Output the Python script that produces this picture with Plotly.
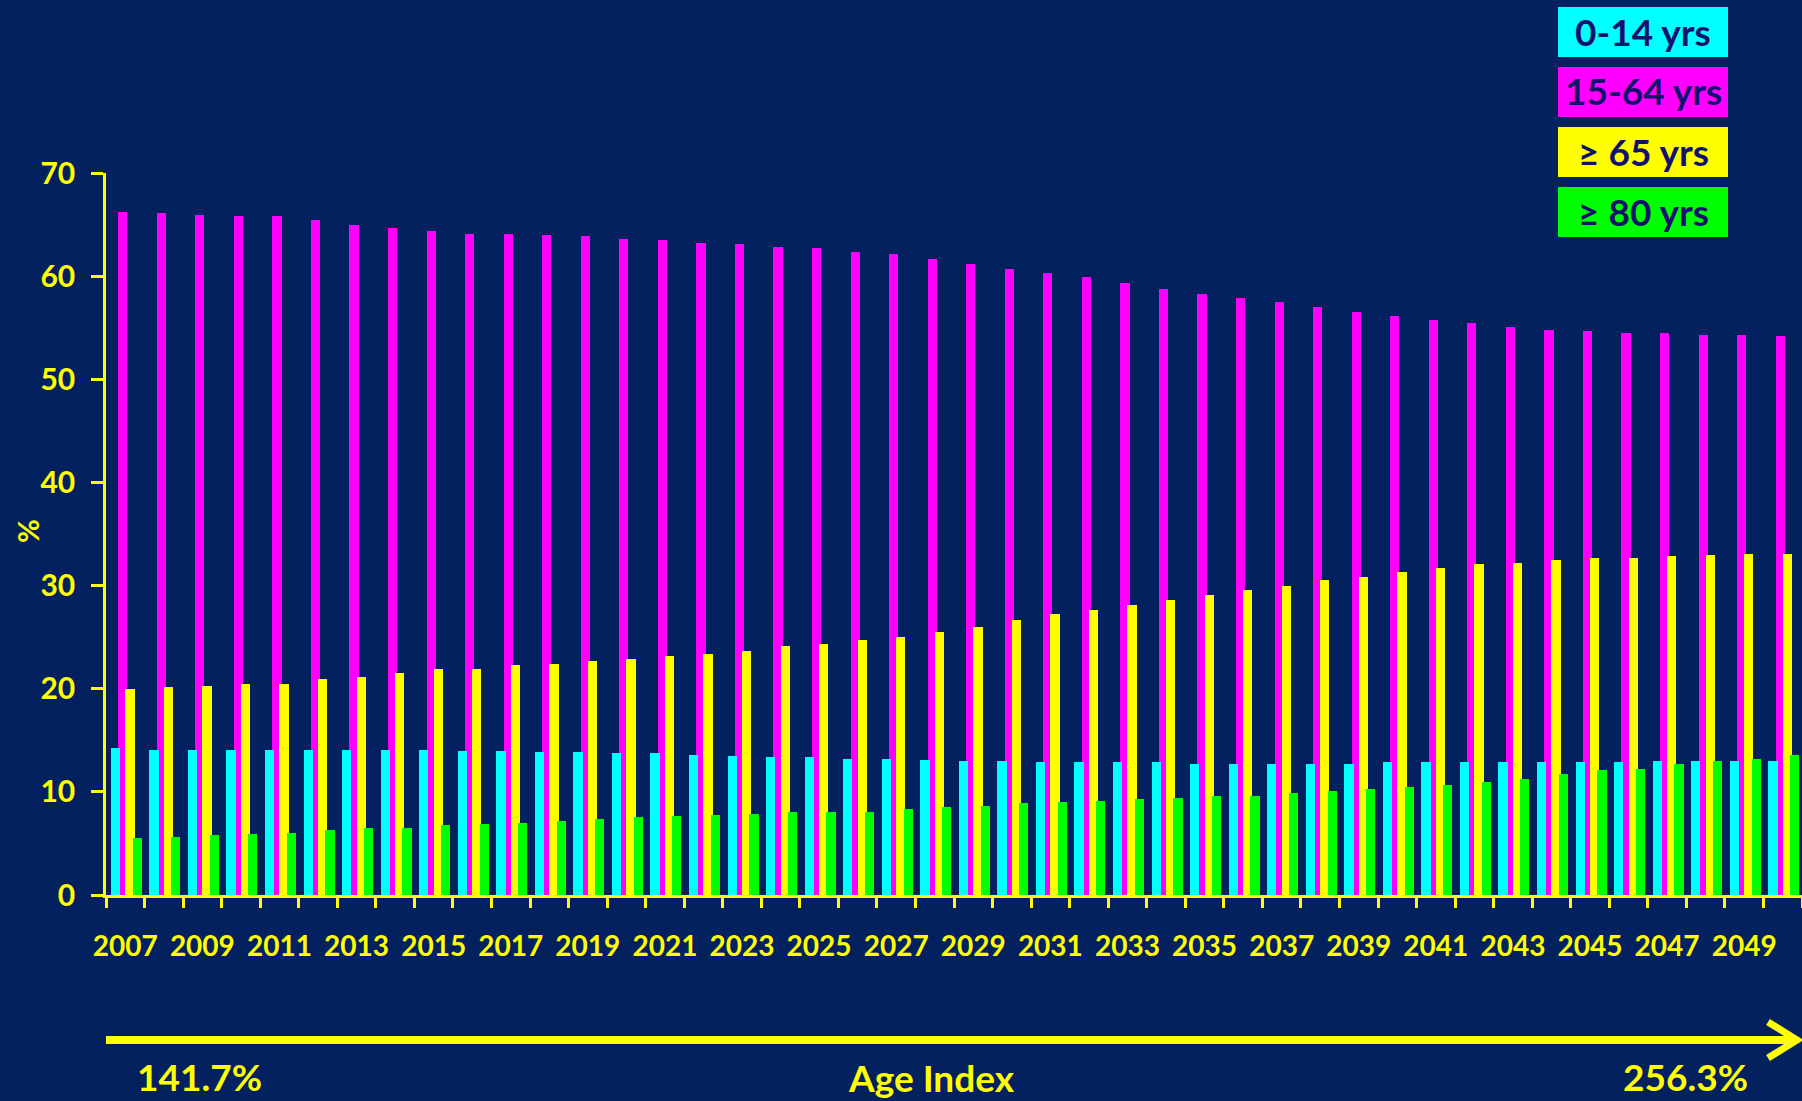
import plotly.graph_objects as go

# ---- data: population share by age group (%), 2007-2050 ----
years = list(range(2007, 2051))

age_0_14 = [14.3, 14.1, 14.1, 14.1, 14.1, 14.1, 14.1, 14.1, 14.1, 14.0, 14.0,
            13.9, 13.9, 13.8, 13.8, 13.6, 13.5, 13.4, 13.4, 13.2, 13.2, 13.1,
            13.0, 13.0, 12.9, 12.9, 12.9, 12.9, 12.7, 12.7, 12.7, 12.7, 12.7, 12.9,
            12.9, 12.9, 12.9, 12.9, 12.9, 12.9, 13.0, 13.0, 13.0, 13.0]

age_15_64 = [66.2, 66.1, 65.9, 65.8, 65.8, 65.4, 65.0, 64.7, 64.4, 64.1, 64.1,
             64.0, 63.9, 63.6, 63.5, 63.2, 63.1, 62.8, 62.7, 62.3, 62.1, 61.7,
             61.2, 60.7, 60.3, 59.9, 59.3, 58.8, 58.3, 57.9, 57.5, 57.0, 56.5, 56.1,
             55.7, 55.5, 55.1, 54.8, 54.7, 54.5, 54.5, 54.3, 54.3, 54.2]

age_65_plus = [20.0, 20.2, 20.3, 20.5, 20.5, 20.9, 21.1, 21.5, 21.9, 21.9, 22.3,
               22.4, 22.7, 22.9, 23.2, 23.4, 23.7, 24.1, 24.3, 24.7, 25.0, 25.5,
               26.0, 26.7, 27.2, 27.6, 28.1, 28.6, 29.1, 29.6, 30.0, 30.5, 30.8, 31.3,
               31.7, 32.1, 32.2, 32.5, 32.7, 32.7, 32.9, 33.0, 33.1, 33.1]

age_80_plus = [5.5, 5.6, 5.8, 5.9, 6.0, 6.3, 6.5, 6.5, 6.8, 6.9, 7.0,
               7.2, 7.4, 7.6, 7.7, 7.8, 7.9, 8.0, 8.0, 8.0, 8.3, 8.5,
               8.6, 8.9, 9.0, 9.1, 9.3, 9.4, 9.6, 9.6, 9.9, 10.1, 10.3, 10.5,
               10.7, 11.0, 11.2, 11.7, 12.1, 12.2, 12.7, 13.0, 13.2, 13.6]

year_ticks = list(range(2007, 2050, 2))
y_ticks = [0, 10, 20, 30, 40, 50, 60, 70]
legend_labels = ["0-14 yrs", "15-64 yrs", "≥ 65 yrs", "≥ 80 yrs"]
age_index_start = "141.7%"
age_index_end = "256.3%"
age_index_title = "Age Index"

# ---- styling ----
BG = "#03215F"
YELLOW = "#FFFF00"
CYAN = "#00FFFF"
MAGENTA = "#FF00FF"
GREEN = "#00FF00"
LEGEND_TEXT = "#12126E"
FONT = "Lato"

W, H = 1802, 1101
ML, MR, MT, MB = 106, 0, 173, 206
PW = W - ML - MR
PH = H - MT - MB


def px_x(px):
    return (px - ML) / PW


def px_y(py):
    return (H - MB - py) / PH


BAR_W = 0.24
series = [
    # (name, values, colour, offset) -- drawn back to front
    ("15-64 yrs", age_15_64, MAGENTA, -0.185),
    ("0-14 yrs", age_0_14, CYAN, -0.375),
    ("≥ 65 yrs", age_65_plus, YELLOW, 0.0),
    ("≥ 80 yrs", age_80_plus, GREEN, 0.19),
]

fig = go.Figure()
for name, vals, col, off in series:
    fig.add_trace(go.Bar(
        x=years, y=vals, name=name,
        offset=off, width=BAR_W,
        marker=dict(color=col, line=dict(width=0)),
        showlegend=False,
    ))

fig.update_layout(
    width=W, height=H,
    margin=dict(l=ML, r=MR, t=MT, b=MB, pad=0),
    paper_bgcolor=BG, plot_bgcolor=BG,
    barmode="overlay",
    bargap=0,
    showlegend=False,
    xaxis=dict(
        range=[2006.5, 2050.5],
        showline=True, linecolor=YELLOW, linewidth=3,
        showgrid=False, zeroline=False,
        tickmode="array", tickvals=year_ticks,
        ticktext=[str(v) for v in year_ticks],
        ticks="",
        tickfont=dict(family=FONT, size=28, color=YELLOW, weight="bold"),
        ticklabelstandoff=24,
        minor=dict(tickmode="linear", tick0=2006.5, dtick=1,
                   ticks="outside", ticklen=10, tickwidth=2.5,
                   tickcolor=YELLOW, showgrid=False),
    ),
    yaxis=dict(
        range=[0, 70],
        showline=True, linecolor=YELLOW, linewidth=2.5,
        showgrid=False, zeroline=False,
        tickmode="array", tickvals=y_ticks,
        ticks="outside", ticklen=12, tickwidth=2.5, tickcolor=YELLOW,
        tickfont=dict(family=FONT, size=30, color=YELLOW, weight="bold"),
        ticklabelstandoff=10,
    ),
)

# y-axis title
fig.add_annotation(
    xref="paper", yref="paper", x=px_x(27), y=px_y(531),
    text="%", textangle=-90, showarrow=False,
    xanchor="center", yanchor="middle",
    font=dict(family=FONT, size=29, color=YELLOW, weight="bold"),
)

# legend boxes
box_x0, box_x1 = 1558, 1728
box_h, box_gap, box_top = 50, 60, 7
for i, (label, col) in enumerate(zip(legend_labels, [CYAN, MAGENTA, YELLOW, GREEN])):
    y0 = box_top + i * box_gap
    y1 = y0 + box_h
    fig.add_shape(
        type="rect", xref="paper", yref="paper",
        x0=px_x(box_x0), x1=px_x(box_x1), y0=px_y(y1), y1=px_y(y0),
        fillcolor=col, line=dict(width=0), layer="above",
    )
    fig.add_annotation(
        xref="paper", yref="paper",
        x=px_x((box_x0 + box_x1) / 2), y=px_y((y0 + y1) / 2 - 1),
        text=label, showarrow=False,
        xanchor="center", yanchor="middle",
        font=dict(family=FONT, size=37, color=LEGEND_TEXT, weight="bold"),
    )

# age-index arrow along the bottom
arrow_y = 1040
fig.add_shape(
    type="line", xref="paper", yref="paper",
    x0=px_x(106), x1=px_x(1794), y0=px_y(arrow_y), y1=px_y(arrow_y),
    line=dict(color=YELLOW, width=8),
)
fig.add_shape(
    type="path", xref="paper", yref="paper",
    path=(f"M {px_x(1768)},{px_y(1022)} L {px_x(1797)},{px_y(arrow_y)} "
          f"L {px_x(1768)},{px_y(1058)}"),
    line=dict(color=YELLOW, width=7),
)

bottom_font = dict(family=FONT, size=37, color=YELLOW, weight="bold")
for txt, cx, cy in [(age_index_start, 199, 1076),
                    (age_index_title, 931, 1077),
                    (age_index_end, 1685, 1076)]:
    fig.add_annotation(
        xref="paper", yref="paper", x=px_x(cx), y=px_y(cy),
        text=txt, showarrow=False, xanchor="center", yanchor="middle",
        font=bottom_font,
    )

fig.write_html("out.html")
